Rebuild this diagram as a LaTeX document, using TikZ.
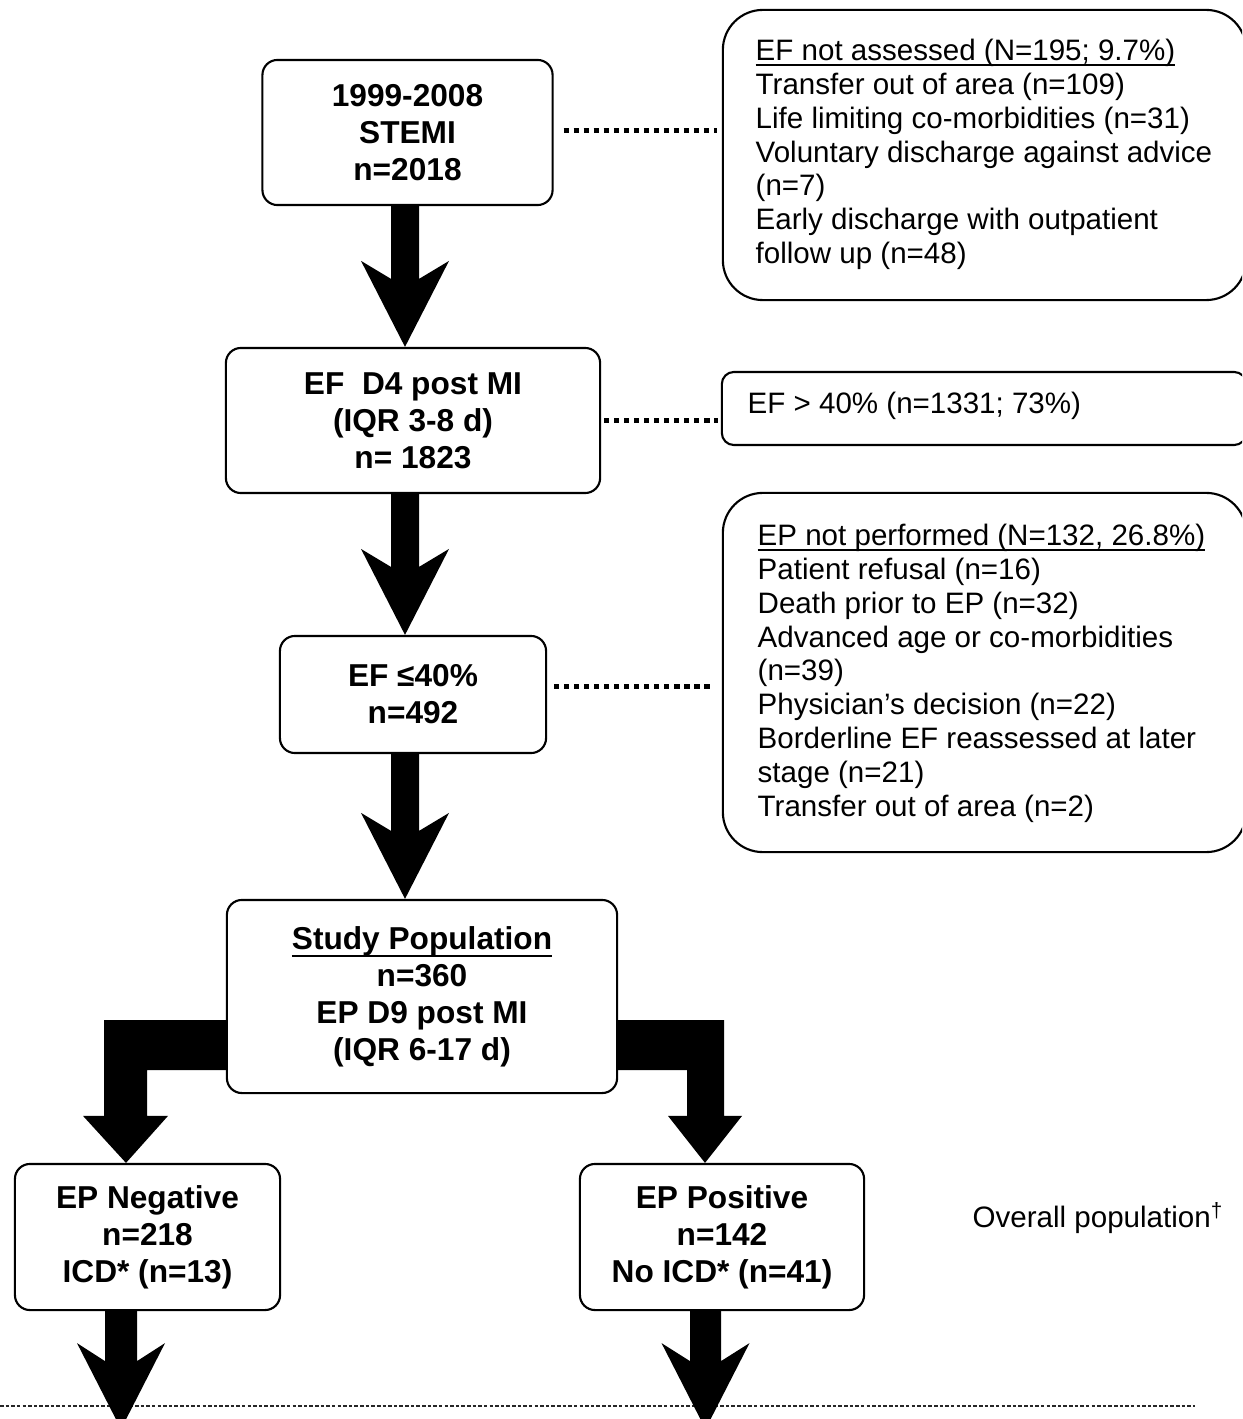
\documentclass[tikz,border=0pt]{standalone}
\usepackage{fontspec}
\setmainfont{Liberation Sans}
\usetikzlibrary{calc}

% Block arrow with swept-back barbs: #1 start, #2 tip, #3 shaft half width
\newcommand\notchedarrow[3]{%
  \fill ($(#1)+(-#3,0)$) -- ($(#2)+(-#3,-68)$) -- ($(#2)+(-44,-86)$) -- (#2)
        -- ($(#2)+(44,-86)$) -- ($(#2)+(#3,-68)$) -- ($(#1)+(#3,0)$) -- cycle;}

% Underline set close to the baseline, without adding depth to the line
% #1 offset below baseline, #2 rule thickness, #3 text
\newcommand\tightul[3]{\leavevmode\setbox0=\hbox{#3}%
  \rlap{\rule[-#1]{\wd0}{#2}}\box0}

\begin{document}
\begin{tikzpicture}[x=0.01cm, y=-0.01cm,
  flowbox/.style={draw, line width=0.6pt, rounded corners=0.15cm, fill=white,
    inner sep=0pt, align=center, font=\fontsize{9}{10.5}\selectfont\bfseries},
  sidebox/.style={draw, line width=0.6pt, inner sep=0pt},
  sidetext/.style={inner sep=0pt, anchor=north west, align=left,
    font=\fontsize{8.4}{9.62}\selectfont},
  dotlink/.style={line width=1.4pt, dash pattern=on 1.45pt off 1.4pt},
]
\useasboundingbox (0,0) rectangle (1242,1419);
\clip (0,0) rectangle (1242,1419);

% main flow boxes
\node[flowbox, minimum width=2.90cm, minimum height=1.45cm] (b1) at (407.5,132.5)
  {1999-2008\\STEMI\\n=2018};
\node[flowbox, minimum width=3.74cm, minimum height=1.45cm] (b2) at (413,420.5)
  {EF\ \ D4 post MI\\(IQR 3-8 d)\\n= 1823};
\node[flowbox, minimum width=2.66cm, minimum height=1.17cm] (b3) at (413,694.5)
  {EF ≤40\%\\n=492};
\node[flowbox, minimum width=3.90cm, minimum height=1.93cm] (b4) at (422,996.5)
  {\tightul{2.1pt}{0.6pt}{Study Population}\\n=360\\EP D9 post MI\\(IQR 6-17 d)};
\node[flowbox, minimum width=2.65cm, minimum height=1.46cm] (b5) at (147.5,1237)
  {EP Negative\\n=218\\ICD* (n=13)};
\node[flowbox, minimum width=2.84cm, minimum height=1.46cm] (b6) at (722,1237)
  {EP Positive\\n=142\\No ICD* (n=41)};

% exclusion boxes on the right
\node[sidebox, rounded corners=0.4cm, minimum width=5.23cm, minimum height=2.90cm] (r1) at (984.5,155) {};
\node[sidetext] (r1t) at (755,38.5)
  {\tightul{1.5pt}{0.5pt}{EF not assessed (N=195; 9.7\%)}\\Transfer out of area (n=109)\\Life limiting co-morbidities (n=31)\\Voluntary discharge against advice\\(n=7)\\Early discharge with outpatient\\follow up (n=48)};

\node[sidebox, rounded corners=0.12cm, minimum width=5.24cm, minimum height=0.73cm] (r2) at (984,408.5) {};
\node[inner sep=0pt, anchor=base west, font=\fontsize{8.4}{9.62}\selectfont] (r2t) at (747,414)
  {EF > 40\% (n=1331; 73\%)};

\node[sidebox, rounded corners=0.4cm, minimum width=5.23cm, minimum height=3.59cm] (r3) at (984.5,672.5) {};
\node[sidetext] (r3t) at (757,523.5)
  {\tightul{1.5pt}{0.5pt}{EP not performed (N=132, 26.8\%)}\\Patient refusal (n=16)\\Death prior to EP (n=32)\\Advanced age or co-morbidities\\(n=39)\\Physician's decision (n=22)\\Borderline EF reassessed at later\\stage (n=21)\\Transfer out of area (n=2)};

\node[inner sep=0pt, anchor=base west, font=\fontsize{8.4}{9.62}\selectfont] (ovp) at (972,1227)
  {Overall population\textsuperscript{\textdagger}};

% dotted links to the exclusion boxes
\draw[dotlink] ($(b1.east)+(10,-2)$) -- ($(r1.west |- b1.east)+(-5,-2)$);
\draw[dotlink] ($(b2.east)+(3,0)$) -- ($(r2.west |- b2.east)+(-3,0)$);
\draw[dotlink] ($(b3.east)+(7,-8)$) -- ($(r3.west |- b3.east)+(-8,-8)$);

% separator line at the foot
\draw[line width=0.8pt, dash pattern=on 1pt off 0.6pt, black!85] (0,1406) -- (1195,1406);

% vertical spine of the main flow
\coordinate (axis) at (405,0);
\coordinate (a1s) at (b1.south -| axis);
\coordinate (a1t) at (b2.north -| axis);
\coordinate (a2s) at (b2.south -| axis);
\coordinate (a2t) at (b3.north -| axis);
\coordinate (a3s) at (b3.south -| axis);
\coordinate (a3t) at (b4.north -| axis);
\notchedarrow{a1s}{a1t}{14}
\notchedarrow{a2s}{a2t}{14}
\notchedarrow{a3s}{a3t}{14}

% elbow arrows from the study population to both branches
\coordinate (lt) at ($(b5.north)+(-21.5,0)$);
\coordinate (lbT) at ($(b4.west)+(0,23.5)$);
\coordinate (lbB) at ($(b4.west)+(0,73.5)$);
\fill (lbT) -- ($(lt |- lbT)+(-22,0)$) -- ($(lt)+(-22,-47)$) -- ($(lt)+(-43,-47)$) -- (lt)
  -- ($(lt)+(42,-47)$) -- ($(lt)+(21,-47)$) -- ($(lt |- lbB)+(21,0)$) -- (lbB) -- cycle;

\coordinate (rt) at ($(b6.north)+(-17,0)$);
\coordinate (rbT) at ($(b4.east)+(0,23.5)$);
\coordinate (rbB) at ($(b4.east)+(0,73.5)$);
\fill (rbT) -- ($(rt |- rbT)+(19,0)$) -- ($(rt)+(19,-47)$) -- ($(rt)+(37,-47)$) -- (rt)
  -- ($(rt)+(-37,-47)$) -- ($(rt)+(-18,-47)$) -- ($(rt |- rbB)+(-18,0)$) -- (rbB) -- cycle;

% arrows leaving the branch boxes
\coordinate (a5s) at ($(b5.south)+(-26.5,0)$);
\coordinate (a5t) at ($(b5.south)+(-26.5,118)$);
\coordinate (a6s) at ($(b6.south)+(-16.5,0)$);
\coordinate (a6t) at ($(b6.south)+(-16.5,118)$);
\notchedarrow{a5s}{a5t}{16}
\notchedarrow{a6s}{a6t}{15.5}
\end{tikzpicture}
\end{document}
